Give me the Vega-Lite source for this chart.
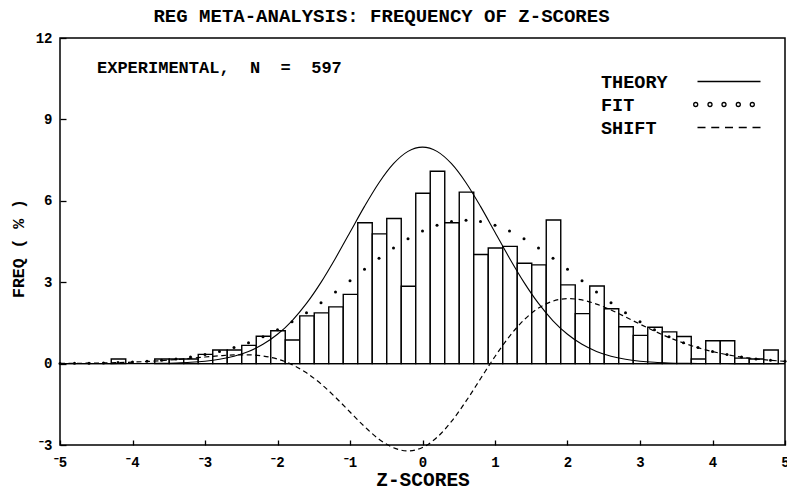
{
  "$schema": "https://vega.github.io/schema/vega-lite/v6.json",
  "width": 725,
  "height": 407,
  "autosize": {"type": "none"},
  "padding": {"left": 60, "top": 38, "right": 2, "bottom": 45},
  "background": "white",
  "title": {
    "text": "REG META-ANALYSIS: FREQUENCY OF Z-SCORES",
    "font": "Liberation Mono",
    "fontSize": 19,
    "fontWeight": "bold",
    "color": "black",
    "anchor": "middle",
    "dx": -41,
    "offset": 5
  },
  "config": {
    "view": {"stroke": "black", "strokeWidth": 1.5},
    "axis": {
      "grid": false,
      "domain": false,
      "tickColor": "black",
      "tickWidth": 1.3,
      "labelColor": "black",
      "labelFont": "Liberation Mono",
      "labelFontWeight": "bold",
      "labelFontSize": 14,
      "labelFlush": false,
      "labelOverlap": false,
      "labelBound": false,
      "titleColor": "black",
      "titleFont": "Liberation Mono",
      "titleFontWeight": "bold"
    }
  },
  "datasets": {
    "bins": [
      {"z0": -4.3, "z1": -4.1, "freq": 0.17},
      {"z0": -3.7, "z1": -3.5, "freq": 0.17},
      {"z0": -3.5, "z1": -3.3, "freq": 0.17},
      {"z0": -3.3, "z1": -3.1, "freq": 0.17},
      {"z0": -3.1, "z1": -2.9, "freq": 0.34},
      {"z0": -2.9, "z1": -2.7, "freq": 0.50},
      {"z0": -2.7, "z1": -2.5, "freq": 0.50},
      {"z0": -2.5, "z1": -2.3, "freq": 0.67},
      {"z0": -2.3, "z1": -2.1, "freq": 1.01},
      {"z0": -2.1, "z1": -1.9, "freq": 1.21},
      {"z0": -1.9, "z1": -1.7, "freq": 0.87},
      {"z0": -1.7, "z1": -1.5, "freq": 1.76},
      {"z0": -1.5, "z1": -1.3, "freq": 1.87},
      {"z0": -1.3, "z1": -1.1, "freq": 2.09},
      {"z0": -1.1, "z1": -0.9, "freq": 2.55},
      {"z0": -0.9, "z1": -0.7, "freq": 5.19},
      {"z0": -0.7, "z1": -0.5, "freq": 4.78},
      {"z0": -0.5, "z1": -0.3, "freq": 5.35},
      {"z0": -0.3, "z1": -0.1, "freq": 2.85},
      {"z0": -0.1, "z1": 0.1, "freq": 6.28},
      {"z0": 0.1, "z1": 0.3, "freq": 7.09},
      {"z0": 0.3, "z1": 0.5, "freq": 5.19},
      {"z0": 0.5, "z1": 0.7, "freq": 6.32},
      {"z0": 0.7, "z1": 0.9, "freq": 4.02},
      {"z0": 0.9, "z1": 1.1, "freq": 4.26},
      {"z0": 1.1, "z1": 1.3, "freq": 4.32},
      {"z0": 1.3, "z1": 1.5, "freq": 3.70},
      {"z0": 1.5, "z1": 1.7, "freq": 3.64},
      {"z0": 1.7, "z1": 1.9, "freq": 5.29},
      {"z0": 1.9, "z1": 2.1, "freq": 2.90},
      {"z0": 2.1, "z1": 2.3, "freq": 1.84},
      {"z0": 2.3, "z1": 2.5, "freq": 2.86},
      {"z0": 2.5, "z1": 2.7, "freq": 2.02},
      {"z0": 2.7, "z1": 2.9, "freq": 1.36},
      {"z0": 2.9, "z1": 3.1, "freq": 1.04},
      {"z0": 3.1, "z1": 3.3, "freq": 1.34},
      {"z0": 3.3, "z1": 3.5, "freq": 1.17},
      {"z0": 3.5, "z1": 3.7, "freq": 1.00},
      {"z0": 3.7, "z1": 3.9, "freq": 0.17},
      {"z0": 3.9, "z1": 4.1, "freq": 0.84},
      {"z0": 4.1, "z1": 4.3, "freq": 0.84},
      {"z0": 4.3, "z1": 4.5, "freq": 0.20},
      {"z0": 4.5, "z1": 4.7, "freq": 0.17},
      {"z0": 4.7, "z1": 4.9, "freq": 0.50}
    ],
    "curves": [
      {"z": -5.0, "theory": 0.0000, "fit": 0.0065, "shift": 0.0065},
      {"z": -4.8, "theory": 0.0001, "fit": 0.0104, "shift": 0.0103},
      {"z": -4.6, "theory": 0.0002, "fit": 0.0164, "shift": 0.0162},
      {"z": -4.4, "theory": 0.0005, "fit": 0.0253, "shift": 0.0248},
      {"z": -4.2, "theory": 0.0012, "fit": 0.0385, "shift": 0.0373},
      {"z": -4.0, "theory": 0.0027, "fit": 0.0575, "shift": 0.0548},
      {"z": -3.8, "theory": 0.0058, "fit": 0.0843, "shift": 0.0785},
      {"z": -3.6, "theory": 0.0122, "fit": 0.1218, "shift": 0.1096},
      {"z": -3.4, "theory": 0.0247, "fit": 0.1729, "shift": 0.1482},
      {"z": -3.2, "theory": 0.0477, "fit": 0.2415, "shift": 0.1938},
      {"z": -3.0, "theory": 0.0887, "fit": 0.3312, "shift": 0.2425},
      {"z": -2.8, "theory": 0.158, "fit": 0.4466, "shift": 0.2886},
      {"z": -2.6, "theory": 0.272, "fit": 0.592, "shift": 0.320},
      {"z": -2.4, "theory": 0.448, "fit": 0.772, "shift": 0.324},
      {"z": -2.2, "theory": 0.710, "fit": 0.989, "shift": 0.279},
      {"z": -2.0, "theory": 1.080, "fit": 1.246, "shift": 0.166},
      {"z": -1.8, "theory": 1.579, "fit": 1.542, "shift": -0.037},
      {"z": -1.6, "theory": 2.218, "fit": 1.877, "shift": -0.341},
      {"z": -1.4, "theory": 2.995, "fit": 2.246, "shift": -0.749},
      {"z": -1.2, "theory": 3.885, "fit": 2.642, "shift": -1.243},
      {"z": -1.0, "theory": 4.840, "fit": 3.056, "shift": -1.784},
      {"z": -0.8, "theory": 5.794, "fit": 3.473, "shift": -2.321},
      {"z": -0.6, "theory": 6.666, "fit": 3.881, "shift": -2.785},
      {"z": -0.4, "theory": 7.367, "fit": 4.264, "shift": -3.103},
      {"z": -0.2, "theory": 7.822, "fit": 4.605, "shift": -3.217},
      {"z": 0.0, "theory": 7.980, "fit": 4.889, "shift": -3.091},
      {"z": 0.2, "theory": 7.822, "fit": 5.103, "shift": -2.719},
      {"z": 0.4, "theory": 7.367, "fit": 5.235, "shift": -2.132},
      {"z": 0.6, "theory": 6.666, "fit": 5.280, "shift": -1.386},
      {"z": 0.8, "theory": 5.794, "fit": 5.235, "shift": -0.559},
      {"z": 1.0, "theory": 4.840, "fit": 5.103, "shift": 0.263},
      {"z": 1.2, "theory": 3.885, "fit": 4.889, "shift": 1.004},
      {"z": 1.4, "theory": 2.995, "fit": 4.605, "shift": 1.610},
      {"z": 1.6, "theory": 2.218, "fit": 4.264, "shift": 2.046},
      {"z": 1.8, "theory": 1.579, "fit": 3.881, "shift": 2.302},
      {"z": 2.0, "theory": 1.080, "fit": 3.473, "shift": 2.393},
      {"z": 2.2, "theory": 0.710, "fit": 3.056, "shift": 2.346},
      {"z": 2.4, "theory": 0.448, "fit": 2.642, "shift": 2.194},
      {"z": 2.6, "theory": 0.272, "fit": 2.246, "shift": 1.974},
      {"z": 2.8, "theory": 0.158, "fit": 1.877, "shift": 1.719},
      {"z": 3.0, "theory": 0.0887, "fit": 1.542, "shift": 1.453},
      {"z": 3.2, "theory": 0.0477, "fit": 1.246, "shift": 1.198},
      {"z": 3.4, "theory": 0.0247, "fit": 0.989, "shift": 0.964},
      {"z": 3.6, "theory": 0.0122, "fit": 0.772, "shift": 0.760},
      {"z": 3.8, "theory": 0.0058, "fit": 0.592, "shift": 0.586},
      {"z": 4.0, "theory": 0.0027, "fit": 0.447, "shift": 0.444},
      {"z": 4.2, "theory": 0.0012, "fit": 0.331, "shift": 0.330},
      {"z": 4.4, "theory": 0.0005, "fit": 0.2415, "shift": 0.241},
      {"z": 4.6, "theory": 0.0002, "fit": 0.173, "shift": 0.173},
      {"z": 4.8, "theory": 0.0001, "fit": 0.122, "shift": 0.122},
      {"z": 5.0, "theory": 0.0000, "fit": 0.0843, "shift": 0.084}
    ],
    "series": [
      {"series": "THEORY"},
      {"series": "FIT"},
      {"series": "SHIFT"}
    ],
    "note": [
      {"label": "EXPERIMENTAL,\u00a0 N\u00a0 =\u00a0 597"}
    ]
  },
  "layer": [
    {
      "data": {"name": "bins"},
      "mark": {"type": "rect", "fill": "white", "stroke": "black", "strokeWidth": 1.4},
      "encoding": {
        "x": {
          "field": "z0", "type": "quantitative", "bin": {"binned": true},
          "scale": {"domain": [-5, 5], "nice": false, "zero": false},
          "axis": {
            "values": [-5, -4, -3, -2, -1, 0, 1, 2, 3, 4, 5],
            "tickSize": -5,
            "labelPadding": 15,
            "labelExpr": "datum.value < 0 ? '⁻' + abs(datum.value) : '' + datum.value",
            "title": "Z-SCORES",
            "titleFontSize": 19.5,
            "titleBaseline": "alphabetic",
            "titleY": 40
          }
        },
        "x2": {"field": "z1"},
        "y": {
          "field": "freq", "type": "quantitative",
          "scale": {"domain": [-3, 12], "nice": false, "zero": false},
          "axis": {
            "values": [-3, 0, 3, 6, 9, 12],
            "tickSize": -6,
            "labelPadding": 14,
            "labelExpr": "datum.value < 0 ? '⁻' + abs(datum.value) : '' + datum.value",
            "title": "FREQ ( % )",
            "titleFontSize": 16.5,
            "titleX": -42,
            "titleY": 210,
            "titleBaseline": "middle"
          }
        },
        "y2": {"datum": 0}
      }
    },
    {
      "data": {"name": "note"},
      "mark": {"type": "rule", "stroke": "black", "strokeWidth": 1.4},
      "encoding": {"y": {"datum": 0}}
    },
    {
      "data": {"name": "curves"},
      "mark": {"type": "line", "stroke": "black", "strokeWidth": 1.1, "interpolate": "monotone"},
      "encoding": {
        "x": {"field": "z", "type": "quantitative"},
        "y": {"field": "theory", "type": "quantitative"}
      }
    },
    {
      "data": {"name": "curves"},
      "mark": {"type": "line", "stroke": "black", "strokeWidth": 1.2, "strokeDash": [5, 3.5], "interpolate": "monotone"},
      "encoding": {
        "x": {"field": "z", "type": "quantitative"},
        "y": {"field": "shift", "type": "quantitative"}
      }
    },
    {
      "data": {"name": "curves"},
      "mark": {"type": "point", "filled": true, "fill": "black", "size": 9, "opacity": 1},
      "encoding": {
        "x": {"field": "z", "type": "quantitative"},
        "y": {"field": "fit", "type": "quantitative"}
      }
    },
    {
      "data": {"name": "note"},
      "mark": {"type": "text", "font": "Liberation Mono", "fontWeight": "bold", "fontSize": 17, "align": "left", "baseline": "alphabetic", "color": "black"},
      "encoding": {
        "x": {"datum": -4.49},
        "y": {"datum": 10.71},
        "text": {"field": "label"}
      }
    },
    {
      "data": {"name": "series"},
      "mark": {"type": "point", "opacity": 0, "filled": false},
      "encoding": {
        "shape": {
          "field": "series", "type": "nominal",
          "scale": {
            "domain": ["THEORY", "FIT", "SHIFT"],
            "range": [
              "M-3.15,0L3.15,0",
              "M-3.53,0a0.2,0.2 0 1,0 0.4,0a0.2,0.2 0 1,0 -0.4,0M-2.1,0a0.2,0.2 0 1,0 0.4,0a0.2,0.2 0 1,0 -0.4,0M-0.7,0a0.2,0.2 0 1,0 0.4,0a0.2,0.2 0 1,0 -0.4,0M0.73,0a0.2,0.2 0 1,0 0.4,0a0.2,0.2 0 1,0 -0.4,0M2.13,0a0.2,0.2 0 1,0 0.4,0a0.2,0.2 0 1,0 -0.4,0",
              "M-3.15,0L-2.35,0M-1.775,0L-0.975,0M-0.4,0L0.4,0M0.975,0L1.775,0M2.35,0L3.15,0"
            ]
          },
          "legend": {
            "title": null,
            "orient": "none",
            "legendX": 541,
            "legendY": 32.5,
            "padding": 0,
            "symbolSize": 400,
            "symbolOffset": 117,
            "labelOffset": -139,
            "rowPadding": 2,
            "symbolStrokeWidth": 1.3,
            "symbolStrokeColor": "black",
            "symbolFillColor": "transparent",
            "symbolOpacity": 1,
            "labelFont": "Liberation Mono",
            "labelFontWeight": "bold",
            "labelFontSize": 18.5,
            "labelColor": "black",
            "encode": {"symbols": {"update": {"opacity": {"value": 1}}}}
          }
        }
      }
    }
  ]
}
